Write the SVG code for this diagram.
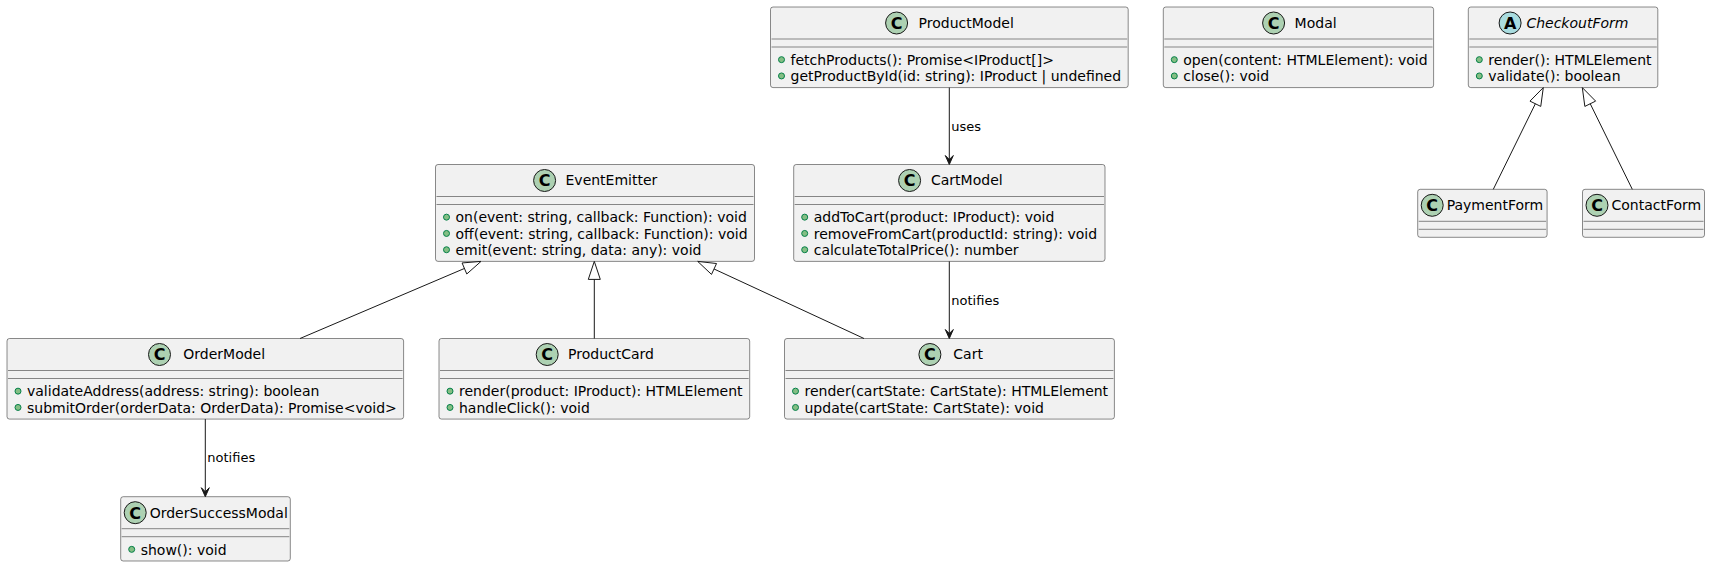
<svg xmlns="http://www.w3.org/2000/svg" width="1710" height="566" viewBox="0 0 1710 566">
<style>
.box{fill:#F1F1F1;stroke:#181818;stroke-width:0.5}
.div{stroke:#181818;stroke-width:0.5}
.ci{fill:#ADD1B2;stroke:#181818;stroke-width:1}
.ca{fill:#A9DCDF;stroke:#181818;stroke-width:1}
.cl{font-family:"DejaVu Sans",sans-serif;font-size:16px;font-weight:bold;fill:#000;text-anchor:middle}
.t{font-family:"DejaVu Sans",sans-serif;font-size:14px;fill:#000}
.ti{font-style:italic}
.v{fill:#84BE84;stroke:#038048;stroke-width:1}
.ln{stroke:#181818;stroke-width:1;fill:none}
.ext{fill:none;stroke:#181818;stroke-width:1}
.ah{fill:#181818;stroke:#181818;stroke-width:1}
.lb{font-family:"DejaVu Sans",sans-serif;font-size:13px;fill:#000}
</style>
<rect width="1710" height="566" fill="#FFFFFF"/>

<g id="ProductModel">
<rect class="box" x="770.5" y="7" width="357.7" height="80.59" rx="2.5" ry="2.5"/>
<circle class="ci" cx="896.6" cy="23" r="11"/>
<text class="cl" x="896.6" y="28.85">C</text>
<text class="t" x="918.6" y="27.85">ProductModel</text>
<line class="div" x1="771.5" y1="39" x2="1127.2" y2="39"/>
<line class="div" x1="771.5" y1="47" x2="1127.2" y2="47"/>
<circle class="v" cx="781.5" cy="59.65" r="3"/>
<text class="t" x="790.5" y="64.99">fetchProducts(): Promise&lt;IProduct[]&gt;</text>
<circle class="v" cx="781.5" cy="75.95" r="3"/>
<text class="t" x="790.5" y="81.29">getProductById(id: string): IProduct | undefined</text>
</g>

<g id="Modal">
<rect class="box" x="1163.3" y="7" width="270.3" height="80.59" rx="2.5" ry="2.5"/>
<circle class="ci" cx="1273.6" cy="23" r="11"/>
<text class="cl" x="1273.6" y="28.85">C</text>
<text class="t" x="1294.6" y="27.85">Modal</text>
<line class="div" x1="1164.3" y1="39" x2="1432.6" y2="39"/>
<line class="div" x1="1164.3" y1="47" x2="1432.6" y2="47"/>
<circle class="v" cx="1174.3" cy="59.65" r="3"/>
<text class="t" x="1183.3" y="64.99">open(content: HTMLElement): void</text>
<circle class="v" cx="1174.3" cy="75.95" r="3"/>
<text class="t" x="1183.3" y="81.29">close(): void</text>
</g>

<g id="CheckoutForm">
<rect class="box" x="1468.3" y="7" width="189.5" height="80.59" rx="2.5" ry="2.5"/>
<circle class="ca" cx="1510.1" cy="23" r="11"/>
<text class="cl" x="1510.1" y="28.85">A</text>
<text class="t ti" x="1526.4" y="27.85">CheckoutForm</text>
<line class="div" x1="1469.3" y1="39" x2="1656.8" y2="39"/>
<line class="div" x1="1469.3" y1="47" x2="1656.8" y2="47"/>
<circle class="v" cx="1479.3" cy="59.65" r="3"/>
<text class="t" x="1488.3" y="64.99">render(): HTMLElement</text>
<circle class="v" cx="1479.3" cy="75.95" r="3"/>
<text class="t" x="1488.3" y="81.29">validate(): boolean</text>
</g>

<g id="EventEmitter">
<rect class="box" x="435.5" y="164.5" width="319" height="96.89" rx="2.5" ry="2.5"/>
<circle class="ci" cx="544.6" cy="180.5" r="11"/>
<text class="cl" x="544.6" y="186.35">C</text>
<text class="t" x="565.5" y="185.35">EventEmitter</text>
<line class="div" x1="436.5" y1="196.5" x2="753.5" y2="196.5"/>
<line class="div" x1="436.5" y1="204.5" x2="753.5" y2="204.5"/>
<circle class="v" cx="446.5" cy="217.15" r="3"/>
<text class="t" x="455.5" y="222.49">on(event: string, callback: Function): void</text>
<circle class="v" cx="446.5" cy="233.45" r="3"/>
<text class="t" x="455.5" y="238.79">off(event: string, callback: Function): void</text>
<circle class="v" cx="446.5" cy="249.74" r="3"/>
<text class="t" x="455.5" y="255.09">emit(event: string, data: any): void</text>
</g>

<g id="CartModel">
<rect class="box" x="793.7" y="164.5" width="311.3" height="96.89" rx="2.5" ry="2.5"/>
<circle class="ci" cx="909.6" cy="180.5" r="11"/>
<text class="cl" x="909.6" y="186.35">C</text>
<text class="t" x="931" y="185.35">CartModel</text>
<line class="div" x1="794.7" y1="196.5" x2="1104" y2="196.5"/>
<line class="div" x1="794.7" y1="204.5" x2="1104" y2="204.5"/>
<circle class="v" cx="804.7" cy="217.15" r="3"/>
<text class="t" x="813.7" y="222.49">addToCart(product: IProduct): void</text>
<circle class="v" cx="804.7" cy="233.45" r="3"/>
<text class="t" x="813.7" y="238.79">removeFromCart(productId: string): void</text>
<circle class="v" cx="804.7" cy="249.74" r="3"/>
<text class="t" x="813.7" y="255.09">calculateTotalPrice(): number</text>
</g>

<g id="PaymentForm">
<rect class="box" x="1417.7" y="189.3" width="129.4" height="48" rx="2.5" ry="2.5"/>
<circle class="ci" cx="1432.2" cy="205.3" r="11"/>
<text class="cl" x="1432.2" y="211.15">C</text>
<text class="t" x="1446.7" y="210.15">PaymentForm</text>
<line class="div" x1="1418.7" y1="221.3" x2="1546.1" y2="221.3"/>
<line class="div" x1="1418.7" y1="229.3" x2="1546.1" y2="229.3"/>
</g>

<g id="ContactForm">
<rect class="box" x="1582.5" y="189.3" width="122" height="48" rx="2.5" ry="2.5"/>
<circle class="ci" cx="1597" cy="205.3" r="11"/>
<text class="cl" x="1597" y="211.15">C</text>
<text class="t" x="1611.5" y="210.15">ContactForm</text>
<line class="div" x1="1583.5" y1="221.3" x2="1703.5" y2="221.3"/>
<line class="div" x1="1583.5" y1="229.3" x2="1703.5" y2="229.3"/>
</g>

<g id="OrderModel">
<rect class="box" x="7" y="338.5" width="396.6" height="80.59" rx="2.5" ry="2.5"/>
<circle class="ci" cx="159.5" cy="354.5" r="11"/>
<text class="cl" x="159.5" y="360.35">C</text>
<text class="t" x="183.3" y="359.35">OrderModel</text>
<line class="div" x1="8" y1="370.5" x2="402.6" y2="370.5"/>
<line class="div" x1="8" y1="378.5" x2="402.6" y2="378.5"/>
<circle class="v" cx="18" cy="391.15" r="3"/>
<text class="t" x="27" y="396.49">validateAddress(address: string): boolean</text>
<circle class="v" cx="18" cy="407.45" r="3"/>
<text class="t" x="27" y="412.79">submitOrder(orderData: OrderData): Promise&lt;void&gt;</text>
</g>

<g id="ProductCard">
<rect class="box" x="439" y="338.5" width="310.7" height="80.59" rx="2.5" ry="2.5"/>
<circle class="ci" cx="547.2" cy="354.5" r="11"/>
<text class="cl" x="547.2" y="360.35">C</text>
<text class="t" x="568.1" y="359.35">ProductCard</text>
<line class="div" x1="440" y1="370.5" x2="748.7" y2="370.5"/>
<line class="div" x1="440" y1="378.5" x2="748.7" y2="378.5"/>
<circle class="v" cx="450" cy="391.15" r="3"/>
<text class="t" x="459" y="396.49">render(product: IProduct): HTMLElement</text>
<circle class="v" cx="450" cy="407.45" r="3"/>
<text class="t" x="459" y="412.79">handleClick(): void</text>
</g>

<g id="Cart">
<rect class="box" x="784.5" y="338.5" width="329.9" height="80.59" rx="2.5" ry="2.5"/>
<circle class="ci" cx="929.9" cy="354.5" r="11"/>
<text class="cl" x="929.9" y="360.35">C</text>
<text class="t" x="953.3" y="359.35">Cart</text>
<line class="div" x1="785.5" y1="370.5" x2="1113.4" y2="370.5"/>
<line class="div" x1="785.5" y1="378.5" x2="1113.4" y2="378.5"/>
<circle class="v" cx="795.5" cy="391.15" r="3"/>
<text class="t" x="804.5" y="396.49">render(cartState: CartState): HTMLElement</text>
<circle class="v" cx="795.5" cy="407.45" r="3"/>
<text class="t" x="804.5" y="412.79">update(cartState: CartState): void</text>
</g>

<g id="OrderSuccessModal">
<rect class="box" x="120.7" y="496.7" width="169.6" height="64.3" rx="2.5" ry="2.5"/>
<circle class="ci" cx="135.2" cy="512.7" r="11"/>
<text class="cl" x="135.2" y="518.55">C</text>
<text class="t" x="149.7" y="517.55">OrderSuccessModal</text>
<line class="div" x1="121.7" y1="528.7" x2="289.3" y2="528.7"/>
<line class="div" x1="121.7" y1="536.7" x2="289.3" y2="536.7"/>
<circle class="v" cx="131.7" cy="549.35" r="3"/>
<text class="t" x="140.7" y="554.69">show(): void</text>
</g>

<g id="connectors">
<line class="ln" x1="949.3" y1="87.6" x2="949.3" y2="160"/>
<polygon class="ah" points="949.3,164.5 945.3,155.5 949.3,159.5 953.3,155.5"/>
<text class="lb" x="951.3" y="130.5">uses</text>

<line class="ln" x1="949.3" y1="261.4" x2="949.3" y2="334"/>
<polygon class="ah" points="949.3,338.5 945.3,329.5 949.3,333.5 953.3,329.5"/>
<text class="lb" x="951.3" y="305">notifies</text>

<line class="ln" x1="205.3" y1="419.1" x2="205.3" y2="492"/>
<polygon class="ah" points="205.3,496.7 201.3,487.7 205.3,491.7 209.3,487.7"/>
<text class="lb" x="207.3" y="462">notifies</text>

<line class="ln" x1="300" y1="338.5" x2="464.44" y2="268.46"/>
<polygon class="ext" points="481,261.4 466.79,273.98 462.09,262.94"/>

<line class="ln" x1="594.3" y1="338.5" x2="594.3" y2="279.4"/>
<polygon class="ext" points="594.3,261.4 588.3,279.4 600.3,279.4"/>

<line class="ln" x1="864" y1="338.5" x2="714.03" y2="268.97"/>
<polygon class="ext" points="697.7,261.4 711.51,274.41 716.55,263.53"/>

<line class="ln" x1="1493.3" y1="189.3" x2="1535.36" y2="103.76"/>
<polygon class="ext" points="1543.3,87.6 1540.75,106.41 1529.97,101.11"/>

<line class="ln" x1="1632.3" y1="189.3" x2="1590.24" y2="103.76"/>
<polygon class="ext" points="1582.3,87.6 1584.85,106.41 1595.63,101.11"/>
</g>
</svg>
